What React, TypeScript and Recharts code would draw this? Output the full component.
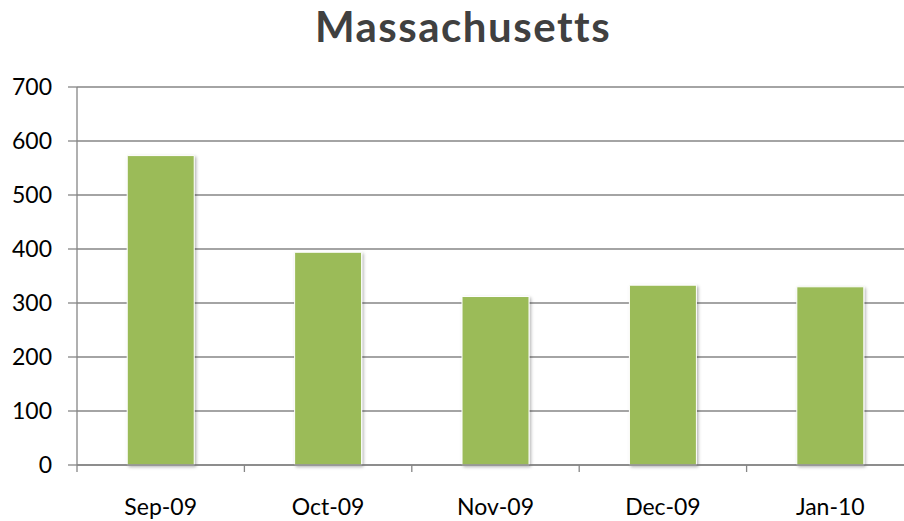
import React from 'react';
import { BarChart, Bar, XAxis, YAxis, CartesianGrid } from 'recharts';

const months = ['Sep-09', 'Oct-09', 'Nov-09', 'Dec-09', 'Jan-10'];
const counts = [573, 394, 312, 333, 330];
const yTicks = [0, 100, 200, 300, 400, 500, 600, 700];

const data = months.map((m, i) => ({ month: m, value: counts[i] }));

const FONT = 'Lato, "Open Sans", sans-serif';
const GRID = '#868686';

// category label with the tick mark drawn at the left edge of its band
const MonthTick = (props: any) => {
  const { x, y, payload } = props;
  const off = payload?.offset ?? 0;
  return (
    <g>
      <line x1={x - off} x2={x - off} y1={y} y2={y + 7} stroke={GRID} strokeWidth={1.3} />
      <text x={x} y={y + 50} textAnchor="middle" fontFamily={FONT} fontSize={23} fill="#000">
        {payload.value}
      </text>
    </g>
  );
};

export default function App() {
  return (
    <div
      style={{
        position: 'fixed',
        left: 0,
        top: 0,
        width: 904,
        height: 521,
        overflow: 'hidden',
        background: '#fff',
      }}
    >
      <div
        style={{
          position: 'absolute',
          left: 0,
          top: 1,
          width: 904,
          paddingLeft: 22,
          boxSizing: 'border-box',
          textAlign: 'center',
          fontFamily: FONT,
          fontWeight: 700,
          fontSize: 42,
          letterSpacing: 1.5,
          color: '#404040',
          lineHeight: '51px',
        }}
      >
        Massachusetts
      </div>
      <BarChart
        width={925}
        height={521}
        data={data}
        margin={{ top: 87, right: 11, bottom: 0, left: 0 }}
        barCategoryGap="30%"
      >
        <defs>
          <filter id="barShadow" x="-20%" y="-10%" width="140%" height="120%">
            <feDropShadow dx="1.5" dy="1.5" stdDeviation="1.5" floodColor="#000" floodOpacity="0.3" />
          </filter>
        </defs>
        <CartesianGrid vertical={false} stroke={GRID} strokeWidth={1.3} />
        <XAxis
          dataKey="month"
          height={56}
          axisLine={{ stroke: GRID, strokeWidth: 1.3 }}
          tickLine={false}
          tickSize={0}
          tickMargin={0}
          tick={<MonthTick />}
          interval={0}
        />
        <YAxis
          width={77}
          domain={[0, 700]}
          ticks={yTicks}
          axisLine={{ stroke: GRID, strokeWidth: 1.3 }}
          tickLine={{ stroke: GRID, strokeWidth: 1.3 }}
          tickSize={9}
          tickMargin={16}
          tick={{ fontFamily: FONT, fontSize: 23, fill: '#000' }}
        />
        <Bar
          dataKey="value"
          fill="#9BBB59"
          stroke="#ffffff"
          strokeWidth={1}
          filter="url(#barShadow)"
          isAnimationActive={false}
        />
      </BarChart>
    </div>
  );
}
